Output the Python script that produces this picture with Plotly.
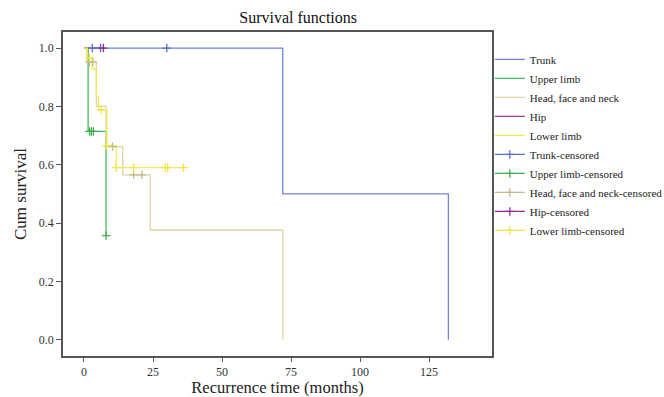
import plotly.graph_objects as go

# ---- data ----
trunk_t = [0, 72, 132]
trunk_s = [1.0, 0.5, 0.0]
trunk_cens_t = [3, 6, 30]
trunk_cens_s = [1.0, 1.0, 1.0]

upper_t = [0, 1.5, 8]
upper_s = [1.0, 0.714, 0.357]
upper_cens_t = [2, 2.7, 3.4, 8]
upper_cens_s = [0.714, 0.714, 0.714, 0.357]

head_t = [0, 1, 4.5, 8, 14, 24, 72]
head_s = [1.0, 0.952, 0.80, 0.662, 0.565, 0.376, 0.0]
head_cens_t = [2, 3.2, 10.3, 18, 21]
head_cens_s = [0.952, 0.952, 0.662, 0.565, 0.565]

hip_t = [0, 7]
hip_s = [1.0, 1.0]
hip_cens_t = [7]
hip_cens_s = [1.0]

lower_t = [0, 1.2, 3, 4.5, 5.3, 8.3, 11.7, 36]
lower_s = [1.0, 0.967, 0.929, 0.834, 0.788, 0.665, 0.59, 0.59]
lower_cens_t = [2, 6.2, 8.2, 11.7, 18, 29.5, 30.3, 36]
lower_cens_s = [0.967, 0.788, 0.665, 0.59, 0.59, 0.59, 0.59, 0.59]

x_ticks = [0, 25, 50, 75, 100, 125]
y_ticks = [0.0, 0.2, 0.4, 0.6, 0.8, 1.0]

names = ["Trunk", "Upper limb", "Head, face and neck", "Hip", "Lower limb"]
colors = ["#6f84d8", "#4cbc5a", "#dcd5a4", "#9b3f9e", "#f3e955"]
cens_colors = ["#5a6fd0", "#3fae4e", "#c2b98a", "#8e2f90", "#f1e444"]

curves = [(trunk_t, trunk_s), (upper_t, upper_s), (head_t, head_s),
          (hip_t, hip_s), (lower_t, lower_s)]
cens = [(trunk_cens_t, trunk_cens_s), (upper_cens_t, upper_cens_s),
        (head_cens_t, head_cens_s), (hip_cens_t, hip_cens_s),
        (lower_cens_t, lower_cens_s)]

FONT = "Liberation Serif, Times New Roman, DejaVu Serif, serif"

fig = go.Figure()
for name, col, (t, s) in zip(names, colors, curves):
    fig.add_trace(go.Scatter(x=t, y=s, mode="lines", name=name,
                             line=dict(color=col, width=1.3, shape="hv")))


def gapped(vals):
    out = []
    for v in vals:
        out += [v, None]
    return out


for name, col, (t, s) in zip(names, cens_colors, cens):
    fig.add_trace(go.Scatter(x=gapped(t), y=gapped(s), mode="lines+markers",
                             name=name + "-censored", connectgaps=False,
                             line=dict(color=col, width=1.3),
                             marker=dict(symbol="cross-thin-open", size=6,
                                         line=dict(color=col, width=1.3))))

fig.update_layout(
    width=664, height=397,
    margin=dict(l=63, r=172, t=32, b=41, autoexpand=False),
    paper_bgcolor="white", plot_bgcolor="white",
    font=dict(family=FONT, color="#222"),
    title=dict(text="Survival functions", x=0.449, xanchor="center",
               y=0.955, yanchor="middle", font=dict(size=16, family=FONT, color="#111")),
    showlegend=True,
    legend=dict(x=0.995, y=0.96, xanchor="left", yanchor="top",
                font=dict(size=11, family=FONT, color="#222"),
                itemwidth=30,
                bgcolor="rgba(0,0,0,0)", tracegroupgap=0),
    xaxis=dict(range=[-7.6, 147.8], tickvals=x_ticks,
               automargin=False,
               showgrid=False, zeroline=False, showline=True, mirror=True,
               linecolor="#555", linewidth=1.5, ticks="outside", ticklen=4,
               tickcolor="#555", tickfont=dict(size=12, family=FONT, color="#333"),
               title=dict(text="Recurrence time (months)", standoff=5,
                          font=dict(size=16.5, family=FONT, color="#222"))),
    yaxis=dict(range=[-0.056, 1.055], tickvals=y_ticks,
               tickformat=".1f", automargin=False,
               showgrid=False, zeroline=False, showline=True, mirror=True,
               linecolor="#555", linewidth=1.5, ticks="outside", ticklen=5,
               tickcolor="#555", tickfont=dict(size=12, family=FONT, color="#333"),
               title=dict(text="Cum survival", standoff=8,
                          font=dict(size=17, family=FONT, color="#222"))),
)

fig.write_html("out.html",
               config={"displayModeBar": False},
               post_script="document.body.style.margin='0';")
